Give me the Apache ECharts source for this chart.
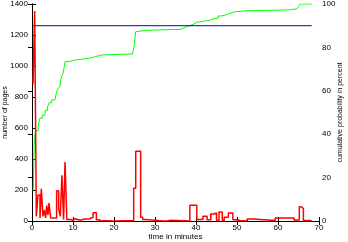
<!DOCTYPE html>
<html><head><meta charset="utf-8">
<script src="https://cdn.jsdelivr.net/npm/echarts@6/dist/echarts.min.js"></script>
<style>html,body{margin:0;padding:0;background:#fff}#c{width:348px;height:242px}</style>
</head><body><div id="c"></div>
<script>
// Histogram of pages per time bin (x = bin start in minutes, y = number of pages)
const pagesX = [0.25,0.65,1.05,1.45,1.95,2.27,2.68,3.0,3.33,3.58,3.9,4.15,4.55,6.0,6.5,6.9,7.3,7.7,8.05,8.5,9.5,10.0,10.5,11.7,12.1,12.9,13.3,13.9,14.9,15.7,16.2,16.8,19.8,24.8,25.3,26.5,27.0,27.6,32.0,32.4,32.9,33.9,38.5,40.2,41.7,42.7,43.6,44.4,45.0,45.6,46.4,46.9,47.9,49.0,49.8,50.8,52.5,53.7,59.3,63.9,65.2,65.7,66.2,68.2];
const pagesY = [880,1355,30,168,20,208,30,70,20,100,40,115,20,195,80,30,295,10,380,10,5,15,5,6,13,3,13,24,54,8,3,0,4,211,450,24,10,0,5,0,5,0,101,10,30,8,45,52,3,58,5,24,52,8,3,0,13,4,19,6,92,80,4,0];
// Cumulative probability (percent)
const cumX = [0.3,0.55,0.75,1.0,1.5,1.7,1.95,2.5,3.2,3.8,4.2,4.8,5.6,6.0,6.4,6.8,7.2,7.6,8.05,8.5,9.7,10.5,12.1,13.7,15.4,17.0,24.6,24.9,25.3,25.5,28.0,36.1,36.9,37.7,38.5,39.5,40.2,41.4,43.0,43.8,45.4,46.3,47.5,48.3,49.5,52.4,61.3,63.3,64.6,65.0,65.4,68.2];
const cumY = [14,37,40,41.6,43,45.7,47.4,48.8,51,52.7,54.5,55.8,56.6,59.6,61,62.2,66.8,68,73.4,73.7,74.2,74.6,74.9,75.7,76.5,77.0,78,80.3,87.2,87.9,88.3,88.8,89.6,90,90.8,91.6,92,92.3,93,93.5,94.5,95.1,95.7,96.4,96.9,97.2,97.4,97.8,98.2,98.8,100,100];
// 90 percent reference line
const refX = [0.25, 68.2];
const refY = [90, 90];

const xTicks = {min:0, max:70, interval:10};
const yLeft = {min:0, max:1400, interval:200};
const yRight = {min:0, max:100, interval:20};

const zip = (a,b)=>a.map((v,i)=>[v,b[i]]);
const font = 'Liberation Sans, Arial, sans-serif';
const black = '#000';
const plain = v => String(v);
const chart = echarts.init(document.getElementById('c'), null, {renderer:'canvas'});
chart.setOption({
  animation:false,
  backgroundColor:'#fff',
  grid:{left:32, right:29, top:4, bottom:21, containLabel:false, outerBoundsMode:'none'},
  xAxis:[{
    type:'value', min:xTicks.min, max:xTicks.max, interval:xTicks.interval,
    name:'time in minutes', nameLocation:'middle', nameGap:12, nameMoveOverlap:false,
    nameTextStyle:{fontSize:8, fontFamily:font, color:black},
    axisLine:{lineStyle:{color:black, width:1}},
    axisTick:{inside:true, length:4, lineStyle:{color:black}},
    axisLabel:{fontSize:8, fontFamily:font, color:black, margin:3, formatter:plain},
    splitLine:{show:false}
  },{
    type:'value', position:'top', min:xTicks.min, max:xTicks.max, interval:xTicks.interval,
    axisLine:{lineStyle:{color:black, width:1}},
    axisTick:{inside:true, length:4, lineStyle:{color:black}},
    axisLabel:{show:false}, splitLine:{show:false}
  }],
  yAxis:[{
    type:'value', min:yLeft.min, max:yLeft.max, interval:yLeft.interval,
    name:'number of pages', nameLocation:'middle', nameGap:23, nameRotate:90, nameMoveOverlap:false,
    nameTextStyle:{fontSize:7, fontFamily:font, color:black},
    axisLine:{show:true, lineStyle:{color:black, width:1}},
    axisTick:{show:true, inside:true, length:4, lineStyle:{color:black}},
    axisLabel:{fontSize:8, fontFamily:font, color:black, margin:4, formatter:plain},
    splitLine:{show:false}
  },{
    type:'value', position:'right', min:yRight.min, max:yRight.max, interval:yRight.interval,
    name:'cumulative probability in percent', nameLocation:'middle', nameGap:18, nameRotate:90, nameMoveOverlap:false,
    nameTextStyle:{fontSize:7, fontFamily:font, color:black},
    axisLine:{show:true, lineStyle:{color:black, width:1}},
    axisTick:{show:true, inside:true, length:4, lineStyle:{color:black}},
    axisLabel:{fontSize:8, fontFamily:font, color:black, margin:3, formatter:plain},
    splitLine:{show:false}
  }],
  series:[{
    type:'line', step:'end', xAxisIndex:0, yAxisIndex:0, data:zip(pagesX,pagesY),
    symbol:'none', lineStyle:{color:'#ff0000', width:1.5}, z:3
  },{
    type:'line', step:'end', xAxisIndex:0, yAxisIndex:1, data:zip(cumX,cumY),
    symbol:'none', lineStyle:{color:'#00ff00', width:1}, z:2
  },{
    type:'line', xAxisIndex:0, yAxisIndex:1, data:zip(refX,refY),
    symbol:'none', lineStyle:{color:'#0000d0', width:1}, z:2
  }]
});
</script></body></html>
